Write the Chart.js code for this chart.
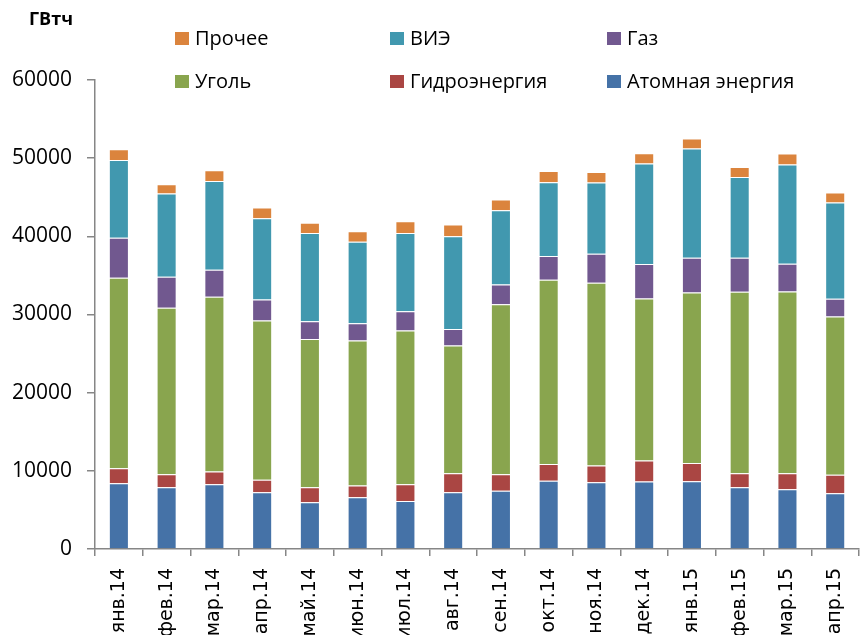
<!DOCTYPE html>
<html>
<head>
<meta charset="utf-8">
<script src="https://cdn.jsdelivr.net/npm/chart.js@4/dist/chart.umd.min.js"></script>
<style>
  html, body { margin: 0; padding: 0; background: #fff; }
  #wrap { position: relative; width: 862px; height: 635px; overflow: hidden; }
  #c { position: absolute; left: 0; top: 0; }
  #unit { position: absolute; left: 29px; top: 6px; font: bold 18px "Open Sans", sans-serif; color: #000; }
  .lg { position: absolute; display: flex; align-items: center; font: 20px "Open Sans", sans-serif; color: #000; white-space: nowrap; line-height: 1; }
  .lg span.m { display: inline-block; width: 14px; height: 13px; margin-right: 6px; }
</style>
</head>
<body>
<div id="wrap">
  <canvas id="c" width="870" height="635"></canvas>
  <div id="unit">ГВтч</div>
  <div id="legend"></div>
</div>
<script>
const months = ['янв.14','фев.14','мар.14','апр.14','май.14','июн.14','июл.14','авг.14','сен.14','окт.14','ноя.14','дек.14','янв.15','фев.15','мар.15','апр.15'];
const atomic = [8420,7910,8290,7270,5990,6630,6150,7270,7440,8720,8550,8630,8680,7910,7650,7140];
const hydro  = [1920,1660,1620,1580,1920,1490,2140,2430,2130,2140,2130,2690,2310,1790,2050,2350];
const coal   = [24360,21290,22360,20380,18970,18550,19660,16320,21750,23590,23380,20730,21830,23210,23250,20250];
const gas    = [5130,3970,3460,2690,2260,2210,2470,2140,2520,3020,3720,4400,4450,4360,3550,2270];
const vie    = [9950,10640,11360,10390,11280,10440,10000,11840,9490,9450,9100,12870,13970,10330,12690,12310];
const other  = [1370,1200,1370,1370,1330,1320,1500,1500,1370,1450,1360,1320,1280,1280,1410,1280];
const yTicks = [0,10000,20000,30000,40000,50000,60000];

const seriesNames  = ['Атомная энергия','Гидроэнергия','Уголь','Газ','ВИЭ','Прочее'];
const seriesData   = [atomic, hydro, coal, gas, vie, other];
const seriesColors = ['#4572A7','#AA4643','#89A54E','#71588F','#4198AF','#DB843D'];

const datasets = seriesNames.map((n, i) => ({
  label: n,
  data: seriesData[i],
  backgroundColor: seriesColors[i],
  borderColor: 'rgba(255,255,255,0.45)',
  borderWidth: 1,
  barPercentage: 0.42,
  categoryPercentage: 1.0
}));

const chart = new Chart(document.getElementById('c'), {
  type: 'bar',
  data: { labels: months, datasets },
  options: {
    responsive: false,
    animation: false,
    devicePixelRatio: 1,
    layout: { padding: { top: 80, right: 0, bottom: 0, left: 0 } },
    plugins: { legend: { display: false }, tooltip: { enabled: false } },
    scales: {
      x: {
        stacked: true,
        afterFit: s => { s.height = 86; },
        grid: { offset: true, drawOnChartArea: false, drawTicks: true, tickLength: 7, color: '#868686', lineWidth: 1.5 },
        border: { display: true, color: '#868686', width: 1.5 },
        ticks: { minRotation: 90, maxRotation: 90, autoSkip: false, padding: 12, color: '#000',
                 font: { family: '"DejaVu Sans", sans-serif', size: 19 } }
      },
      y: {
        stacked: true,
        min: 0, max: 60000,
        afterFit: s => { s.width = 95; },
        afterBuildTicks: s => { s.ticks = yTicks.map(v => ({ value: v })); },
        grid: { drawOnChartArea: false, drawTicks: true, tickLength: 8, color: '#868686', lineWidth: 1.5 },
        border: { display: true, color: '#868686', width: 1.5 },
        ticks: { padding: 15, color: '#000', callback: v => String(v),
                 font: { family: '"Open Sans", sans-serif', size: 21 } }
      }
    }
  }
});

// HTML legend, 3 columns x 2 rows (reverse order of stacking)
const legendOrder = [5, 4, 3, 2, 1, 0];
const colX = [175, 390, 607];
const rowY = [38, 81];
const lg = document.getElementById('legend');
legendOrder.forEach((idx, k) => {
  const d = document.createElement('div');
  d.className = 'lg';
  d.style.left = colX[k % 3] + 'px';
  d.style.top = (rowY[Math.floor(k / 3)] - 12) + 'px';
  d.style.height = '24px';
  const m = document.createElement('span');
  m.className = 'm';
  m.style.background = seriesColors[idx];
  d.appendChild(m);
  d.appendChild(document.createTextNode(seriesNames[idx]));
  lg.appendChild(d);
});
</script>
</body>
</html>
